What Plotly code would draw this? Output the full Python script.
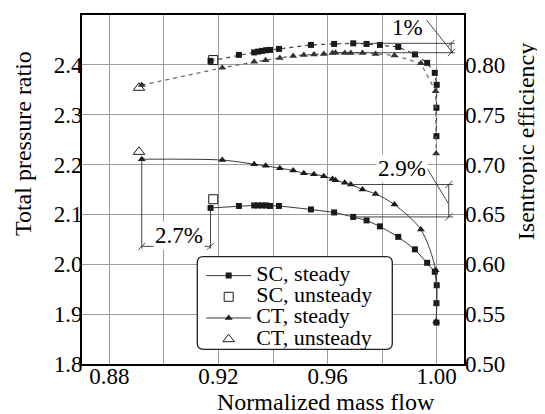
import plotly.graph_objects as go

# ---------------- data ----------------
sc_x = [0.9171, 0.9275, 0.9331, 0.9345, 0.9360, 0.9375, 0.9389, 0.9422, 0.9539, 0.9624,
        0.9694, 0.9743, 0.9792, 0.9859, 0.9920, 0.9965, 0.9993, 1.0000, 0.9999, 0.9999]
sc_pr = [2.113, 2.117, 2.118, 2.118, 2.118, 2.118, 2.117, 2.117, 2.110, 2.104,
         2.095, 2.088, 2.076, 2.055, 2.030, 2.003, 1.985, 1.958, 1.922, 1.883]
sc_eff = [0.8040, 0.8100, 0.8125, 0.8133, 0.8140, 0.8147, 0.8150, 0.8160, 0.8200, 0.8210,
          0.8216, 0.8210, 0.8200, 0.8180, 0.8105, 0.8020, 0.7920, 0.7800, 0.7570, 0.7285]

ct_x = [0.8919, 0.9214, 0.9331, 0.9373, 0.9425, 0.9474, 0.9513, 0.9550, 0.9586, 0.9618,
        0.9629, 0.9663, 0.9685, 0.9728, 0.9776, 0.9845, 0.9942, 0.9996, 0.9998]
ct_pr = [2.2108, 2.2090, 2.2008, 2.1974, 2.1928, 2.1881, 2.1827, 2.1807, 2.1767, 2.1713,
         2.1687, 2.1633, 2.1600, 2.1500, 2.1412, 2.1199, 2.0697, 1.9880, 1.8850]
ct_eff = [0.7797, 0.7970, 0.8030, 0.8045, 0.8070, 0.8090, 0.8100, 0.8105, 0.8110, 0.8120,
          0.8122, 0.8120, 0.8120, 0.8120, 0.8110, 0.8095, 0.8015, 0.7735, 0.7110]

sc_uns_x = [0.9181]
sc_uns_pr = [2.1305]
sc_uns_eff = [0.8048]
ct_uns_x = [0.8909]
ct_uns_pr = [2.2255]
ct_uns_eff = [0.7770]

x_ticks = [0.88, 0.90, 0.92, 0.94, 0.96, 0.98, 1.00]
x_labels = ["0.88", "", "0.92", "", "0.96", "", "1.00"]
pr_ticks = [1.8, 1.9, 2.0, 2.1, 2.2, 2.3, 2.4, 2.5]
eff_ticks = [0.50, 0.55, 0.60, 0.65, 0.70, 0.75, 0.80, 0.85]

# ---------------- style ----------------
FONT = "Liberation Serif, Times New Roman, DejaVu Serif, serif"
FS = 23        # tick labels / annotations
FT = 24        # axis titles
DARK = "#1a1a1a"
LINEC = "#3a3a3a"
GRID = "#9c9c9c"

PX = 0.02 / 54.6      # x units per pixel
PY = 0.1 / 49.8       # pressure-ratio units per pixel
PE = 0.05 / 49.8      # efficiency units per pixel


def leg(t):
    return '<span style="font-size:22px">' + t + '</span>'


fig = go.Figure()

# pressure ratio curves
fig.add_trace(go.Scatter(x=sc_x, y=sc_pr, mode="lines+markers", name=leg("SC, steady"),
                         line=dict(color=LINEC, width=1),
                         marker=dict(symbol="square", size=6, color=DARK)))
fig.add_trace(go.Scatter(x=sc_uns_x, y=sc_uns_pr, mode="markers", name=leg("SC, unsteady"),
                         marker=dict(symbol="square-open", size=9, color=DARK, line=dict(width=1))))
fig.add_trace(go.Scatter(x=ct_x, y=ct_pr, mode="lines+markers", name=leg("CT, steady"),
                         line=dict(color=LINEC, width=1, shape="spline", smoothing=0.8),
                         marker=dict(symbol="triangle-up", size=7, color=DARK)))
fig.add_trace(go.Scatter(x=ct_uns_x, y=ct_uns_pr, mode="markers", name=leg("CT, unsteady"),
                         marker=dict(symbol="triangle-up-open", size=10, color=DARK, line=dict(width=1))))

# efficiency curves
fig.add_trace(go.Scatter(x=sc_x, y=sc_eff, yaxis="y2", mode="lines+markers", showlegend=False,
                         line=dict(color="#444", width=1.2, dash="4px,4px"),
                         marker=dict(symbol="square", size=6, color=DARK)))
fig.add_trace(go.Scatter(x=ct_x, y=ct_eff, yaxis="y2", mode="lines+markers", showlegend=False,
                         line=dict(color="#666", width=1.2, dash="4px,4px"),
                         marker=dict(symbol="triangle-up", size=7, color="#333")))
fig.add_trace(go.Scatter(x=sc_uns_x, y=sc_uns_eff, yaxis="y2", mode="markers", showlegend=False,
                         marker=dict(symbol="square-open", size=9, color=DARK, line=dict(width=1))))
fig.add_trace(go.Scatter(x=ct_uns_x, y=ct_uns_eff, yaxis="y2", mode="markers", showlegend=False,
                         marker=dict(symbol="triangle-up-open", size=10, color=DARK, line=dict(width=1))))

shapes = []


def seg(x0, y0, x1, y1, yref="y", w=0.9, color="#333"):
    shapes.append(dict(type="line", xref="x", yref=yref, x0=x0, y0=y0, x1=x1, y1=y1,
                       line=dict(color=color, width=w), layer="above"))


def tick(x, y, yref, per_y):
    seg(x - 3.5 * PX, y - 3.5 * per_y, x + 3.5 * PX, y + 3.5 * per_y, yref)


# 1% dimension (efficiency difference)
i_sc = sc_eff.index(max(sc_eff))
i_ct = ct_eff.index(max(ct_eff))
e1, e2 = sc_eff[i_sc], ct_eff[i_ct]
xe = 1.0066
xd = 1.0053
seg(sc_x[i_sc], e1, xe, e1, "y2")
seg(ct_x[i_ct], e2, xe, e2, "y2")
seg(xd, e1, xd, e2, "y2")
tick(xd, e1, "y2", PE)
tick(xd, e2, "y2", PE)
seg(0.9963, 0.8449, 1.0060, 0.8116, "y2")

# 2.9% dimension (pressure ratio difference)
p1 = ct_pr[12]
p2 = sc_pr[10]
xe2 = 1.0060
xd2 = 1.0044
seg(ct_x[12], p1, xe2, p1)
seg(sc_x[10], p2, xe2, p2)
seg(xd2, p1, xd2, p2)
tick(xd2, p1, "y", PY)
tick(xd2, p2, "y", PY)
seg(0.9965, 2.1922, 1.0042, 2.1225)

# 2.7% dimension (mass-flow difference)
yb = 2.0315
yd = 2.0360
seg(ct_x[0], ct_pr[0], ct_x[0], yb)
seg(sc_x[0], sc_pr[0], sc_x[0], yb)
seg(ct_x[0], yd, sc_x[0], yd)
tick(ct_x[0], yd, "y", PY)
tick(sc_x[0], yd, "y", PY)

# rounded legend box
x0, x1, y0, y1 = 0.3018, 0.8123, 0.0421, 0.3074
rx, ry = 0.0157, 0.0172
path = (f"M{x0+rx},{y0} L{x1-rx},{y0} Q{x1},{y0} {x1},{y0+ry} L{x1},{y1-ry} "
        f"Q{x1},{y1} {x1-rx},{y1} L{x0+rx},{y1} Q{x0},{y1} {x0},{y1-ry} "
        f"L{x0},{y0+ry} Q{x0},{y0} {x0+rx},{y0} Z")
shapes.append(dict(type="path", xref="paper", yref="paper", path=path,
                   fillcolor="white", line=dict(color="#222", width=1.3), layer="above"))

txt = dict(showarrow=False, xanchor="center", yanchor="middle")
annotations = [
    dict(text="1%", x=0.98941, y=0.8370, xref="x", yref="y2",
         font=dict(family=FONT, size=FS, color="black"), **txt),
    dict(text="2.9%", x=0.98711, y=2.1914, xref="x", yref="y", bgcolor="white",
         font=dict(family=FONT, size=FS, color="black"), **txt),
    dict(text="2.7%", x=0.90553, y=2.0582, xref="x", yref="y", bgcolor="white",
         font=dict(family=FONT, size=FS, color="black"), **txt),
    dict(text="Total pressure ratio", x=-0.1545, y=0.633, xref="paper", yref="paper",
         textangle=-90, font=dict(family=FONT, size=FT, color="black"), **txt),
    dict(text="Isentropic efficiency", x=1.1610, y=0.637, xref="paper", yref="paper",
         textangle=-90, font=dict(family=FONT, size=FT, color="black"), **txt),
    dict(text="Normalized mass flow", x=0.6387, y=-0.110, xref="paper", yref="paper",
         font=dict(family=FONT, size=FT, color="black"), **txt),
]

fig.update_layout(
    width=545, height=414,
    margin=dict(l=74, r=89, t=7, b=58, autoexpand=False),
    paper_bgcolor="white", plot_bgcolor="white",
    font=dict(family=FONT, size=FS, color="black"),
    showlegend=True,
    legend=dict(x=0.312, y=0.298, xanchor="left", yanchor="top",
                bgcolor="rgba(0,0,0,0)", borderwidth=0,
                font=dict(family=FONT, size=14, color="black"),
                itemwidth=45, tracegroupgap=0),
    xaxis=dict(range=[0.87, 1.01], tickvals=x_ticks, ticktext=x_labels, automargin=False,
               showgrid=True, gridcolor=GRID, gridwidth=1.3, zeroline=False,
               showline=True, linecolor="black", linewidth=2, mirror=True, ticks="",
               ticklabelstandoff=-10),
    yaxis=dict(range=[1.8, 2.5], tickvals=pr_ticks, tickformat=".1f", automargin=False,
               showgrid=True, gridcolor=GRID, gridwidth=1.3, zeroline=False,
               showline=True, linecolor="black", linewidth=2, mirror=True, ticks="",
               ticklabelstandoff=-7),
    yaxis2=dict(range=[0.50, 0.85], tickvals=eff_ticks, tickformat=".2f", automargin=False,
                overlaying="y", side="right", showgrid=False, zeroline=False,
                showline=False, ticks=""),
    shapes=shapes,
    annotations=annotations,
)

fig.write_html("out.html")
